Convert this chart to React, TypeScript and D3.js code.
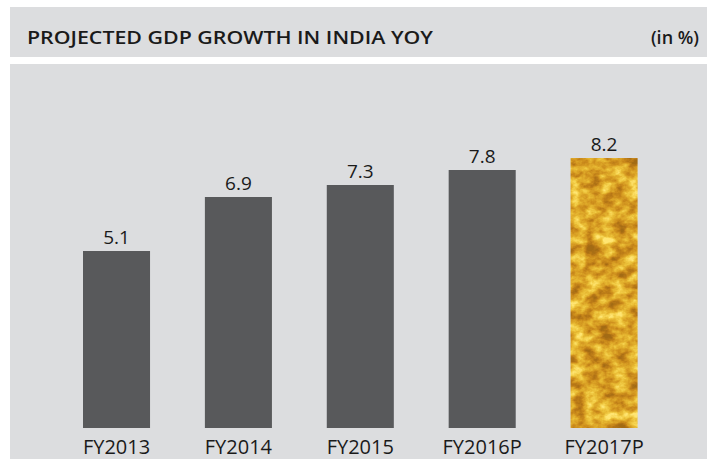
import React from "react";
import * as d3 from "d3";

const categories = ["FY2013", "FY2014", "FY2015", "FY2016P", "FY2017P"];
const growth = [5.1, 6.9, 7.3, 7.8, 8.2];
const valueLabels = ["5.1", "6.9", "7.3", "7.8", "8.2"];
const title = "PROJECTED GDP GROWTH IN INDIA YOY";
const unitLabel = "(in %)";

const W = 707;
const H = 459;
const BAR = "#58595b";
const BG = "#dcdddf";
const TXT = "#1a1a1a";

export default function App() {
  const x = d3
    .scaleBand<string>()
    .domain(categories)
    .range([83, 637.6])
    .paddingInner(0.45)
    .paddingOuter(0);
  const y = d3.scaleLinear().domain([-0.8, 8.6]).range([428, 146]);
  const base = y(-0.8);

  return (
    <svg
      width={W}
      height={H}
      style={{ position: "absolute", left: 0, top: 0, background: "#fff" }}
      fontFamily="'Open Sans', sans-serif"
    >
      <defs>
        <filter
          id="gold"
          x="0"
          y="0"
          width="100%"
          height="100%"
          filterUnits="objectBoundingBox"
          colorInterpolationFilters="sRGB"
        >
          <feTurbulence type="fractalNoise" baseFrequency="0.07 0.09" numOctaves="4" seed="11" result="noise" />
          <feColorMatrix
            in="noise"
            type="matrix"
            values="1.6 0 0 0 -0.3  1.6 0 0 0 -0.3  1.6 0 0 0 -0.3  0 0 0 0 1"
            result="gray"
          />
          <feComponentTransfer in="gray" result="col">
            <feFuncR type="table" tableValues="0.64 0.72 0.8 0.86 0.91 0.96 1" />
            <feFuncG type="table" tableValues="0.42 0.47 0.55 0.64 0.73 0.82 0.9" />
            <feFuncB type="table" tableValues="0.08 0.09 0.11 0.15 0.2 0.3 0.45" />
          </feComponentTransfer>
          <feComposite in="col" in2="SourceGraphic" operator="in" />
        </filter>
      </defs>

      <rect x={0} y={0} width={W} height={H} fill="#fff" />
      <rect x={10} y={7} width={W - 10} height={50} fill={BG} />
      <rect x={10} y={64} width={W - 10} height={H - 64} fill={BG} />

      <text x={27} y={44} fontSize={18} fontWeight={600} fill={TXT} textLength={406} lengthAdjust="spacingAndGlyphs">
        {title}
      </text>
      <text x={699} y={44} fontSize={18} fontWeight={600} fill={TXT} textAnchor="end">
        {unitLabel}
      </text>

      {categories.map((c, i) => {
        const bx = x(c)!;
        const top = y(growth[i]);
        const last = i === categories.length - 1;
        return (
          <g key={c}>
            <rect
              x={bx}
              y={top}
              width={x.bandwidth()}
              height={base - top}
              fill={last ? "#d4a22c" : BAR}
              filter={last ? "url(#gold)" : undefined}
            />
            <text
              x={bx + x.bandwidth() / 2}
              y={top - 7}
              fontSize={19}
              textAnchor="middle"
              fill={TXT}
            >
              {valueLabels[i]}
            </text>
            <text
              x={bx + x.bandwidth() / 2}
              y={454}
              fontSize={20}
              textAnchor="middle"
              fill={TXT}
            >
              {c}
            </text>
          </g>
        );
      })}
    </svg>
  );
}
